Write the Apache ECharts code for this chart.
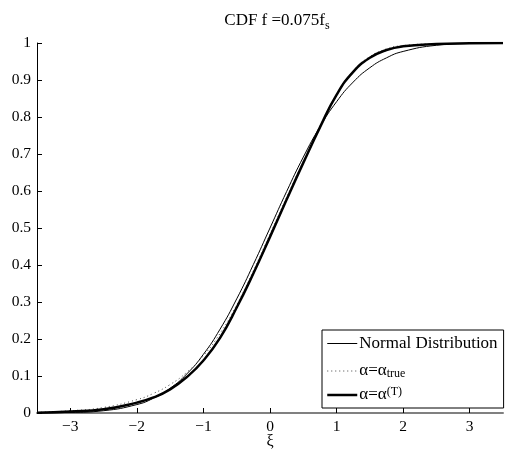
<!DOCTYPE html>
<html>
<head>
<meta charset="utf-8">
<script src="https://cdn.jsdelivr.net/npm/echarts@6/dist/echarts.min.js"></script>
<style>
  html, body { margin: 0; padding: 0; background: #fff; }
  #cdf-chart { width: 507px; height: 450px; }
</style>
</head>
<body>
<div id="cdf-chart"></div>
<script>
// values
var xi = [-3.5, -3, -2.5, -2, -1.75, -1.5, -1.25, -1, -0.75, -0.5, -0.25, 0,
  0.25, 0.5, 0.75, 1, 1.25, 1.5, 1.75, 2, 2.5, 3, 3.5]
var normalCdf = [0.0002, 0.0013, 0.0062, 0.0228, 0.0401, 0.0668, 0.1056, 0.1587, 0.2266, 0.3085, 0.4013, 0.5,
  0.5987, 0.6915, 0.7734, 0.8413, 0.8944, 0.9332, 0.9599, 0.9772, 0.9938, 0.9987, 0.9998]
var trueCdf = [0.002, 0.006, 0.015, 0.036, 0.053, 0.077, 0.110, 0.155, 0.215, 0.292, 0.384, 0.483,
  0.583, 0.680, 0.775, 0.862, 0.925, 0.963, 0.984, 0.993, 0.998, 0.999, 1.0]
var tCdf = [0.001, 0.004, 0.010, 0.028, 0.042, 0.064, 0.097, 0.142, 0.203, 0.285, 0.377, 0.476,
  0.577, 0.676, 0.772, 0.860, 0.922, 0.960, 0.981, 0.991, 0.997, 0.999, 1.0]
var xTicks = [-3, -2, -1, 0, 1, 2, 3]

var pairs = function (ys) {
  return xi.map(function (x, i) { return [x, ys[i]] })
}

var font = 'Liberation Serif'
var chart = echarts.init(document.getElementById('cdf-chart'))

var option = {
  animation: false,
  backgroundColor: '#fff',
  title: {
    text: '{a|CDF f =0.075f}{s|s}',
    left: 272,
    top: 5,
    textAlign: 'center',
    textStyle: {
      fontWeight: 'normal',
      rich: {
        a: { fontFamily: font, fontSize: 17, fontWeight: 'normal', color: '#000', lineHeight: 22 },
        s: { fontFamily: font, fontSize: 12, fontWeight: 'normal', color: '#000', lineHeight: 22, verticalAlign: 'bottom', padding: [12, 0, 0, 0] }
      }
    }
  },
  grid: { left: 37, right: 4, top: 43, bottom: 37, outerBoundsMode: 'none' },
  xAxis: {
    type: 'value',
    min: -3.5,
    max: 3.5,
    name: 'ξ',
    nameLocation: 'middle',
    nameGap: 21,
    nameMoveOverlap: false,
    nameTextStyle: { fontFamily: font, fontSize: 16, color: '#000' },
    axisLine: { onZero: false, lineStyle: { color: '#808080', width: 2 } },
    axisTick: { inside: true, length: 5, customValues: xTicks, lineStyle: { color: '#000' } },
    axisLabel: { customValues: xTicks, fontFamily: font, fontSize: 15.5, color: '#000', margin: 6,
      formatter: function (v) { return v < 0 ? '\u2212' + (-v) : String(v) } },
    splitLine: { show: false }
  },
  yAxis: {
    type: 'value',
    min: 0,
    max: 1,
    interval: 0.1,
    axisLine: { show: true, onZero: false, lineStyle: { color: '#000', width: 1 } },
    axisTick: { inside: true, length: 5, lineStyle: { color: '#000' } },
    axisLabel: { fontFamily: font, fontSize: 15.5, color: '#000', margin: 6,
      formatter: function (v) { return String(Math.round(v * 10) / 10) } },
    splitLine: { show: false }
  },
  legend: {
    orient: 'vertical',
    left: 322,
    top: 330,
    padding: [5, 6, 2, 4],
    itemWidth: 30,
    itemHeight: 14,
    itemGap: 6,
    borderColor: '#000',
    borderWidth: 1,
    backgroundColor: '#fff',
    selectedMode: false,
    itemStyle: { opacity: 0 },
    data: [
      { name: 'normal', lineStyle: { width: 1 } },
      { name: 'true', lineStyle: { width: 1 } },
      { name: 'T', lineStyle: { width: 2.5 } }
    ],
    formatter: function (name) {
      if (name === 'normal') return '{a|Normal Distribution}'
      if (name === 'true') return '{a|α=α}{s|true}'
      return '{a|α=α}{p|(T)}'
    },
    textStyle: {
      padding: [0, 0, 0, -3],
      rich: {
        a: { fontFamily: font, fontSize: 17, color: '#000', lineHeight: 18 },
        s: { fontFamily: font, fontSize: 12, color: '#000', lineHeight: 18, verticalAlign: 'bottom', padding: [10, 0, 0, 0] },
        p: { fontFamily: font, fontSize: 12, color: '#000', lineHeight: 18, verticalAlign: 'top', padding: [0, 0, 8, 0] }
      }
    }
  },
  series: [
    {
      name: 'normal', type: 'line', smooth: true, symbol: 'none', z: 2,
      itemStyle: { color: '#000' },
      lineStyle: { color: '#000', width: 1 },
      data: pairs(normalCdf)
    },
    {
      name: 'true', type: 'line', smooth: true, symbol: 'none', z: 3,
      itemStyle: { color: '#444' },
      lineStyle: { color: '#444', width: 1, type: [1, 3] },
      data: pairs(trueCdf)
    },
    {
      name: 'T', type: 'line', smooth: true, symbol: 'none', z: 4,
      itemStyle: { color: '#000' },
      lineStyle: { color: '#000', width: 2.5 },
      data: pairs(tCdf)
    }
  ]
}

chart.setOption(option)
</script>
</body>
</html>
